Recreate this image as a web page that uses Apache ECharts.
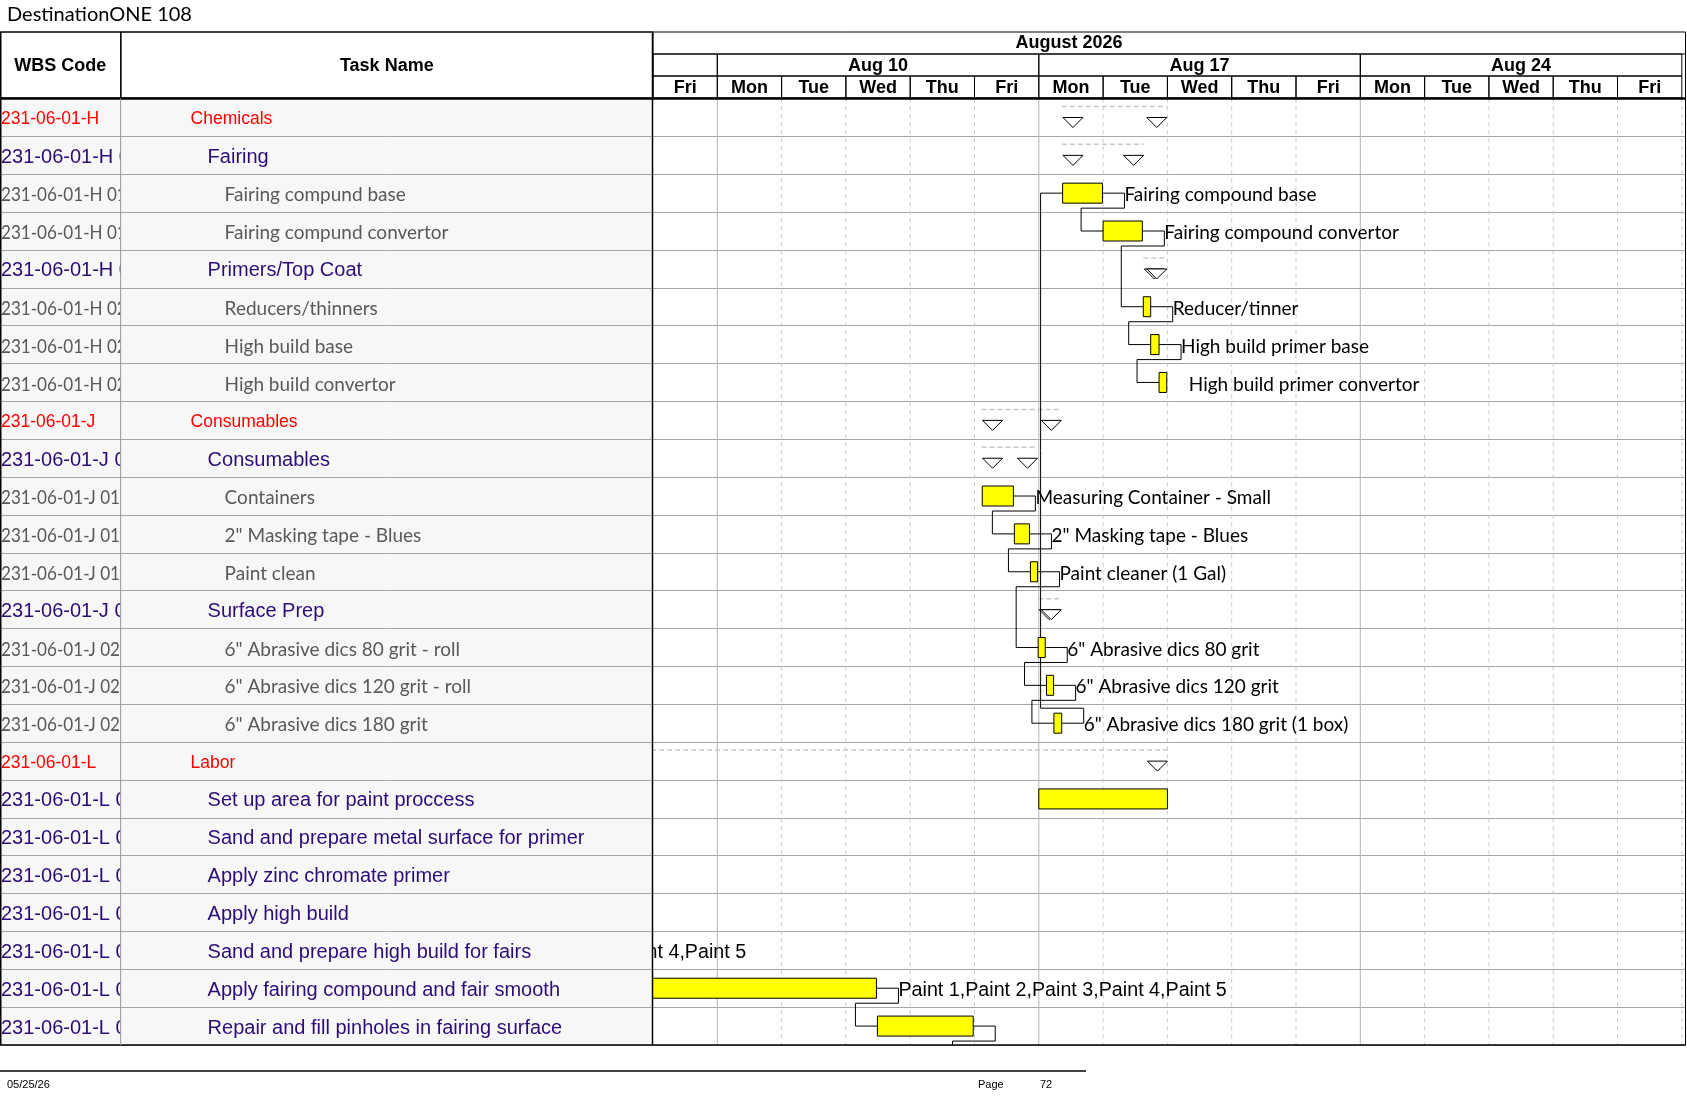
<!DOCTYPE html>
<html>
<head>
<meta charset="utf-8">
<title>DestinationONE 108</title>
<script src="https://cdn.jsdelivr.net/npm/echarts@6/dist/echarts.min.js"></script>
<style>
  html, body { margin: 0; padding: 0; background: #fff; }
  #main { width: 1687px; height: 1097px; }
</style>
</head>
<body>
<div id="main"></div>
<script>
// ---- sheet text ----
const pageTitle = 'DestinationONE 108';
const columnTitles = ['WBS Code', 'Task Name'];
const printDate = '05/25/26';
const pageNumber = '72';

// ---- table rows ----
const wbsCodes = [
  '231-06-01-H', '231-06-01-H 01', '231-06-01-H 01.01', '231-06-01-H 01.02',
  '231-06-01-H 02', '231-06-01-H 02.01', '231-06-01-H 02.02', '231-06-01-H 02.03',
  '231-06-01-J', '231-06-01-J 01', '231-06-01-J 01.01', '231-06-01-J 01.02', '231-06-01-J 01.03',
  '231-06-01-J 02', '231-06-01-J 02.01', '231-06-01-J 02.02', '231-06-01-J 02.03',
  '231-06-01-L', '231-06-01-L 01', '231-06-01-L 02', '231-06-01-L 03', '231-06-01-L 04',
  '231-06-01-L 05', '231-06-01-L 06', '231-06-01-L 07'
];
const taskNames = [
  'Chemicals', 'Fairing', 'Fairing compund base', 'Fairing compund convertor',
  'Primers/Top Coat', 'Reducers/thinners', 'High build base', 'High build convertor',
  'Consumables', 'Consumables', 'Containers', '2" Masking tape - Blues', 'Paint clean',
  'Surface Prep', '6" Abrasive dics 80 grit - roll', '6" Abrasive dics 120 grit - roll', '6" Abrasive dics 180 grit',
  'Labor', 'Set up area for paint proccess', 'Sand and prepare metal surface for primer',
  'Apply zinc chromate primer', 'Apply high build', 'Sand and prepare high build for fairs',
  'Apply fairing compound and fair smooth', 'Repair and fill pinholes in fairing surface'
];
const outlineLevels = [0, 1, 2, 2, 1, 2, 2, 2, 0, 1, 2, 2, 2, 1, 2, 2, 2, 0, 1, 1, 1, 1, 1, 1, 1];

// ---- timescale (working days counted from Fri Aug 7, 2026) ----
const monthName = 'August 2026';
const monthLabelDay = 6.47;
const weekNames = ['', 'Aug 10', 'Aug 17', 'Aug 24'];
const weekStartDays = [0, 1, 6, 11];
const dayNames = ['Fri', 'Mon', 'Tue', 'Wed', 'Thu', 'Fri', 'Mon', 'Tue', 'Wed', 'Thu', 'Fri', 'Mon', 'Tue', 'Wed', 'Thu', 'Fri'];

// ---- summary tasks ----
const summaryRows   = [0, 1, 4, 8, 9, 13, 17];
const summaryStarts = [6.36, 6.36, 7.625, 5.11, 5.11, 5.99, -6.5];
const summaryEnds   = [7.99, 7.63, 7.99, 6.35, 5.98, 6.35, 8.0];

// ---- detail tasks (last one sits on the next page) ----
const taskRows   = [2, 3, 5, 6, 7, 10, 11, 12, 14, 15, 16, 18, 22, 23, 24, 25];
const taskStarts = [6.37, 7.0, 7.625, 7.74, 7.87, 5.12, 5.62, 5.87, 5.99, 6.12, 6.235, 6.0, -6.5, -3.99, 3.49, 5.0];
const taskEnds   = [6.99, 7.61, 7.74, 7.87, 7.99, 5.605, 5.855, 5.98, 6.10, 6.23, 6.356, 8.0, -4.0, 3.475, 4.98, 6.0];
const taskLabels = [
  'Fairing compound base', 'Fairing compound convertor', 'Reducer/tinner', 'High build primer base',
  'High build primer convertor', 'Measuring Container - Small', '2" Masking tape - Blues', 'Paint cleaner (1 Gal)',
  '6" Abrasive dics 80 grit', '6" Abrasive dics 120 grit', '6" Abrasive dics 180 grit (1 box)', '',
  'Paint 1,Paint 2,Paint 3,Paint 4,Paint 5', 'Paint 1,Paint 2,Paint 3,Paint 4,Paint 5', '', ''
];

// ---- finish-to-start links (task indexes) ----
const linkFrom = [0, 1, 2, 3, 5, 6, 7, 8, 9, 10, 12, 13, 14];
const linkTo   = [1, 2, 3, 4, 6, 7, 8, 9, 10, 0, 13, 14, 15];

// ---- styles ----
const SANS = '"Liberation Sans", Arial, sans-serif';
const SOFT = 'Lato, "Open Sans", sans-serif';
const levelStyles = [
  { color: '#ff0000', size: 17.5, family: SANS },
  { color: '#2e0c78', size: 20, family: SANS },
  { color: '#595959', size: 19, family: SOFT }
];
const TOP = 32, HEAD_H = 66, BODY_TOP = 98.5, BODY_H = 946.5;
const COL1 = 120.6, GANTT_X = 653, GANTT_W = 1032.8, RIGHT = 1685.5;
const X_MAX = 16.062;
const TEXT_DY = 2;

const rowCats = taskNames.map((n, i) => String(i));
const chart = echarts.init(document.getElementById('main'));

function bodyY(gi) {
  return {
    gridIndex: gi, type: 'category', data: rowCats, inverse: true,
    axisLine: { show: false }, axisTick: { show: false }, axisLabel: { show: false },
    splitLine: { show: true, interval: 0, lineStyle: { color: '#a6a6a6', width: 1 } }
  };
}

function textEl(x, y, text, st, align) {
  return {
    type: 'text', x: x, y: y, scaleX: st.squeeze || 1,
    style: {
      text: text, fill: st.color, fontSize: st.size, fontFamily: st.family,
      fontWeight: st.weight || 'normal', align: align || 'left', verticalAlign: 'middle'
    }
  };
}

const headStyle = { color: '#000', size: 18, family: SANS, weight: 'bold' };

const option = {
  animation: false,
  grid: [
    { left: 0, top: BODY_TOP, width: COL1, height: BODY_H, show: true, backgroundColor: '#f7f7f7', borderWidth: 0 },
    { left: COL1, top: BODY_TOP, width: GANTT_X - COL1, height: BODY_H, show: true, backgroundColor: '#f7f7f7', borderWidth: 0 },
    { left: GANTT_X, top: BODY_TOP, width: GANTT_W, height: BODY_H, show: true, backgroundColor: '#fff', borderWidth: 0 },
    { left: GANTT_X, top: TOP, width: GANTT_W, height: HEAD_H, show: false }
  ],
  xAxis: [
    { gridIndex: 0, type: 'value', min: 0, max: 1, show: false },
    { gridIndex: 1, type: 'value', min: 0, max: 1, show: false },
    { gridIndex: 2, type: 'value', min: 0, max: X_MAX, show: false },
    { gridIndex: 3, type: 'value', min: 0, max: X_MAX, show: false }
  ],
  yAxis: [
    bodyY(0), bodyY(1), bodyY(2),
    { gridIndex: 3, type: 'value', min: 0, max: 3, inverse: true, show: false }
  ],
  series: [
    // WBS code column
    {
      type: 'custom', xAxisIndex: 0, yAxisIndex: 0, clip: true, silent: true,
      data: wbsCodes.map((c, i) => [0, i]), encode: { x: 0, y: 1 },
      renderItem: function (params, api) {
        const i = params.dataIndex;
        const pt = api.coord([0, i]);
        const lv = outlineLevels[i];
        const st = lv === 2 ? Object.assign({ squeeze: 0.9 }, levelStyles[lv]) : levelStyles[lv];
        return textEl(params.coordSys.x + 1, pt[1] + TEXT_DY, wbsCodes[i], st);
      }
    },
    // task name column
    {
      type: 'custom', xAxisIndex: 1, yAxisIndex: 1, clip: true, silent: true,
      data: taskNames.map((c, i) => [0, i]), encode: { x: 0, y: 1 },
      renderItem: function (params, api) {
        const i = params.dataIndex;
        const pt = api.coord([0, i]);
        const lv = outlineLevels[i];
        return textEl(190.6 + lv * 17, pt[1] + TEXT_DY, taskNames[i], levelStyles[lv]);
      }
    },
    // day grid lines in the chart body
    {
      type: 'custom', xAxisIndex: 2, yAxisIndex: 2, clip: false, silent: true,
      data: dayNames.map((d, i) => [i + 1, 0]), encode: { x: 0, y: 1 },
      renderItem: function (params, api) {
        const k = api.value(0);
        const x = api.coord([k, 0])[0];
        const cs = params.coordSys;
        const weekLine = k < dayNames.length && dayNames[k] === 'Mon';
        return {
          type: 'line', shape: { x1: x, y1: cs.y, x2: x, y2: cs.y + cs.height },
          style: weekLine ? { stroke: '#b4b4b4', lineWidth: 1 } : { stroke: '#c8c8c8', lineWidth: 1, lineDash: [4, 4] }
        };
      }
    },
    // summary tasks
    {
      type: 'custom', xAxisIndex: 2, yAxisIndex: 2, clip: true, silent: true,
      data: summaryRows.map((r, i) => [summaryStarts[i], summaryEnds[i], r]), encode: { x: [0, 1], y: 2 },
      renderItem: function (params, api) {
        const s = api.coord([api.value(0), api.value(2)]);
        const e = api.coord([api.value(1), api.value(2)]);
        const rowH = api.size([0, 1])[1];
        const top = s[1] - rowH / 2;
        const tri = (x0) => ({
          type: 'polygon',
          shape: { points: [[x0, top + 19], [x0 + 20, top + 19], [x0 + 10, top + 29]] },
          style: { fill: '#fff', stroke: '#000', lineWidth: 1 }
        });
        return {
          type: 'group', children: [
            { type: 'line', shape: { x1: s[0], y1: top + 8, x2: e[0], y2: top + 8 },
              style: { stroke: '#c8c8c8', lineWidth: 1.5, lineDash: [5, 3] } },
            tri(s[0] + 1), tri(e[0] - 20)
          ]
        };
      }
    },
    // links
    {
      type: 'custom', xAxisIndex: 2, yAxisIndex: 2, clip: true, silent: true,
      data: linkFrom.map((f, k) => [taskEnds[f], taskRows[f], taskStarts[linkTo[k]], taskRows[linkTo[k]]]),
      encode: { x: [0, 2], y: [1, 3] },
      renderItem: function (params, api) {
        const p = api.coord([api.value(0), api.value(1)]);
        const q = api.coord([api.value(2), api.value(3)]);
        const yTurn = p[1] + (api.value(3) > api.value(1) ? 15 : -15);
        return {
          type: 'polyline',
          shape: { points: [p, [p[0] + 22, p[1]], [p[0] + 22, yTurn], [q[0] - 22, yTurn], [q[0] - 22, q[1]], q] },
          style: { stroke: '#000', lineWidth: 1, fill: null }
        };
      }
    },
    // task bars and labels
    {
      type: 'custom', xAxisIndex: 2, yAxisIndex: 2, clip: true, silent: true,
      data: taskRows.map((r, i) => [taskStarts[i], taskEnds[i], r]), encode: { x: [0, 1], y: 2 },
      renderItem: function (params, api) {
        const i = params.dataIndex;
        const s = api.coord([api.value(0), api.value(2)]);
        const e = api.coord([api.value(1), api.value(2)]);
        const children = [{
          type: 'rect', shape: { x: s[0], y: s[1] - 10, width: e[0] - s[0], height: 20 },
          style: { fill: '#ffff00', stroke: '#000', lineWidth: 1 }
        }];
        if (taskLabels[i]) {
          const lv = outlineLevels[taskRows[i]];
          const st = lv === 1 ? { color: '#000', size: 19.7, family: SANS } : { color: '#000', size: 19, family: SOFT };
          children.push(textEl(e[0] + 22, s[1] + TEXT_DY, taskLabels[i], st));
        }
        return { type: 'group', children: children };
      }
    },
    // header: month
    {
      type: 'custom', xAxisIndex: 3, yAxisIndex: 3, clip: false, silent: true,
      data: [[0, X_MAX, 0]], encode: { x: [0, 1], y: 2 },
      renderItem: function (params, api) {
        const a = api.coord([api.value(0), 0]);
        const b = api.coord([api.value(1), 1]);
        const c = api.coord([monthLabelDay, 0.5]);
        return {
          type: 'group', children: [
            { type: 'line', shape: { x1: a[0], y1: b[1], x2: b[0], y2: b[1] }, style: { stroke: '#000', lineWidth: 1 } },
            textEl(c[0], c[1], monthName, headStyle, 'center')
          ]
        };
      }
    },
    // header: weeks
    {
      type: 'custom', xAxisIndex: 3, yAxisIndex: 3, clip: false, silent: true,
      data: weekNames.map((w, i) => [weekStartDays[i], i + 1 < weekStartDays.length ? weekStartDays[i + 1] : dayNames.length, 1]),
      encode: { x: [0, 1], y: 2 },
      renderItem: function (params, api) {
        const a = api.coord([api.value(0), 1]);
        const b = api.coord([api.value(1), 2]);
        return {
          type: 'group', children: [
            { type: 'rect', shape: { x: a[0], y: a[1], width: b[0] - a[0], height: b[1] - a[1] },
              style: { fill: 'none', stroke: '#000', lineWidth: 1 } },
            textEl((a[0] + b[0]) / 2, (a[1] + b[1]) / 2 + 1, weekNames[params.dataIndex], headStyle, 'center')
          ]
        };
      }
    },
    // header: days
    {
      type: 'custom', xAxisIndex: 3, yAxisIndex: 3, clip: false, silent: true,
      data: dayNames.map((d, i) => [i, i + 1, 2]), encode: { x: [0, 1], y: 2 },
      renderItem: function (params, api) {
        const a = api.coord([api.value(0), 2]);
        const b = api.coord([api.value(1), 3]);
        return {
          type: 'group', children: [
            { type: 'rect', shape: { x: a[0], y: a[1], width: b[0] - a[0], height: b[1] - a[1] },
              style: { fill: 'none', stroke: '#000', lineWidth: 1 } },
            textEl((a[0] + b[0]) / 2, (a[1] + b[1]) / 2 + 1, dayNames[params.dataIndex], headStyle, 'center')
          ]
        };
      }
    }
  ],
  graphic: [
    { type: 'text', x: 7, y: 15, z: 100,
      style: { text: pageTitle, fill: '#000', fontSize: 20, fontFamily: SOFT, verticalAlign: 'middle' } },
    // left header cells
    { type: 'rect', z: 100, shape: { x: 0.5, y: TOP, width: COL1, height: HEAD_H }, style: { fill: 'none', stroke: '#000', lineWidth: 1 } },
    { type: 'rect', z: 100, shape: { x: COL1, y: TOP, width: GANTT_X - COL1, height: HEAD_H }, style: { fill: 'none', stroke: '#000', lineWidth: 1 } },
    { type: 'text', z: 100, x: COL1 / 2, y: TOP + HEAD_H / 2 + 1,
      style: { text: columnTitles[0], fill: '#000', fontSize: 18, fontWeight: 'bold', fontFamily: SANS, align: 'center', verticalAlign: 'middle' } },
    { type: 'text', z: 100, x: (COL1 + GANTT_X) / 2, y: TOP + HEAD_H / 2 + 1,
      style: { text: columnTitles[1], fill: '#000', fontSize: 18, fontWeight: 'bold', fontFamily: SANS, align: 'center', verticalAlign: 'middle' } },
    // frame
    { type: 'line', z: 100, shape: { x1: 0, y1: TOP, x2: RIGHT, y2: TOP }, style: { stroke: '#000', lineWidth: 1 } },
    { type: 'line', z: 100, shape: { x1: 0, y1: BODY_TOP, x2: RIGHT, y2: BODY_TOP }, style: { stroke: '#000', lineWidth: 2.5 } },
    { type: 'line', z: 100, shape: { x1: 0, y1: BODY_TOP + BODY_H, x2: RIGHT, y2: BODY_TOP + BODY_H }, style: { stroke: '#000', lineWidth: 1.5 } },
    { type: 'line', z: 100, shape: { x1: 0.75, y1: TOP, x2: 0.75, y2: BODY_TOP + BODY_H }, style: { stroke: '#000', lineWidth: 1.5 } },
    { type: 'line', z: 100, shape: { x1: COL1, y1: BODY_TOP, x2: COL1, y2: BODY_TOP + BODY_H }, style: { stroke: '#999', lineWidth: 1 } },
    { type: 'line', z: 100, shape: { x1: GANTT_X - 0.5, y1: TOP, x2: GANTT_X - 0.5, y2: BODY_TOP + BODY_H }, style: { stroke: '#000', lineWidth: 1.5 } },
    { type: 'line', z: 100, shape: { x1: RIGHT, y1: TOP, x2: RIGHT, y2: BODY_TOP + BODY_H }, style: { stroke: '#000', lineWidth: 1 } },
    // footer
    { type: 'line', z: 100, shape: { x1: 0, y1: 1071, x2: 1086, y2: 1071 }, style: { stroke: '#000', lineWidth: 1.5 } },
    { type: 'text', z: 100, x: 7, y: 1085, style: { text: printDate, fill: '#000', fontSize: 11, fontFamily: SANS, verticalAlign: 'middle' } },
    { type: 'text', z: 100, x: 978, y: 1085, style: { text: 'Page', fill: '#000', fontSize: 11, fontFamily: SANS, verticalAlign: 'middle' } },
    { type: 'text', z: 100, x: 1040, y: 1085, style: { text: pageNumber, fill: '#000', fontSize: 11, fontFamily: SANS, verticalAlign: 'middle' } }
  ]
};

chart.setOption(option);
window.addEventListener('resize', () => chart.resize());
</script>
</body>
</html>
